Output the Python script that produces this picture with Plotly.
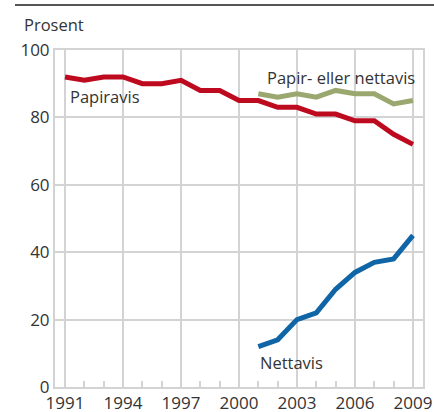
import plotly.graph_objects as go

years_paper = list(range(1991, 2010))
papiravis = [92, 91, 92, 92, 90, 90, 91, 88, 88, 85, 85, 83, 83, 81, 81, 79, 79, 75, 72]

years_net = list(range(2001, 2010))
papir_eller_nett = [87, 86, 87, 86, 88, 87, 87, 84, 85]
nettavis = [12, 14, 20, 22, 29, 34, 37, 38, 45]

x_ticks = [1991, 1994, 1997, 2000, 2003, 2006, 2009]
y_ticks = [0, 20, 40, 60, 80, 100]

FONT = "Open Sans"
TXT = "#333333"
GRID = "#d3d3d3"

fig = go.Figure()
fig.add_trace(go.Scatter(x=years_paper, y=papiravis, mode="lines",
                         line=dict(color="#BE0A1E", width=5), name="Papiravis"))
fig.add_trace(go.Scatter(x=years_net, y=papir_eller_nett, mode="lines",
                         line=dict(color="#9AA870", width=5), name="Papir- eller nettavis"))
fig.add_trace(go.Scatter(x=years_net, y=nettavis, mode="lines",
                         line=dict(color="#0F65A6", width=5), name="Nettavis"))

fig.update_layout(
    width=434, height=412,
    margin=dict(l=55, r=11, t=50, b=25),
    paper_bgcolor="white", plot_bgcolor="white",
    showlegend=False,
    font=dict(family=FONT, size=16.5, color=TXT),
    xaxis=dict(range=[1990.48, 2009.52], tickvals=x_ticks, ticktext=[str(v) for v in x_ticks],
               showgrid=True, gridcolor=GRID, gridwidth=2,
               showline=True, linecolor=GRID, linewidth=2, mirror=True,
               ticks="", zeroline=False, automargin=False,
               minor=dict(dtick=1, tick0=1991, ticks="inside", ticklen=6,
                          tickcolor=GRID, tickwidth=2, showgrid=False),
               tickfont=dict(size=17, color=TXT)),
    yaxis=dict(range=[0, 100], tickvals=y_ticks, showgrid=True, gridcolor=GRID, gridwidth=2,
               showline=True, linecolor=GRID, linewidth=2, mirror=True,
               ticks="", zeroline=False, automargin=False,
               tickfont=dict(size=17, color=TXT)),
    annotations=[
        dict(text="Prosent", xref="paper", yref="paper", x=-0.0897, y=1.077,
             xanchor="left", yanchor="middle", showarrow=False, font=dict(size=16.5, color=TXT)),
        dict(text="Papiravis", xref="x", yref="y", x=1991.15, y=86.3,
             xanchor="left", yanchor="middle", showarrow=False),
        dict(text="Papir- eller nettavis", xref="x", yref="y", x=2001.35, y=91.7,
             xanchor="left", yanchor="middle", showarrow=False),
        dict(text="Nettavis", xref="x", yref="y", x=2001.0, y=7.4,
             xanchor="left", yanchor="middle", showarrow=False),
    ],
    shapes=[
        dict(type="line", xref="paper", yref="paper", x0=-0.1087, x1=1.04, y0=1.1335, y1=1.1335,
             line=dict(color="#555555", width=2)),
    ],
)

fig.write_html("out.html", config={"displayModeBar": False},
               post_script="document.body.style.margin='0';")
